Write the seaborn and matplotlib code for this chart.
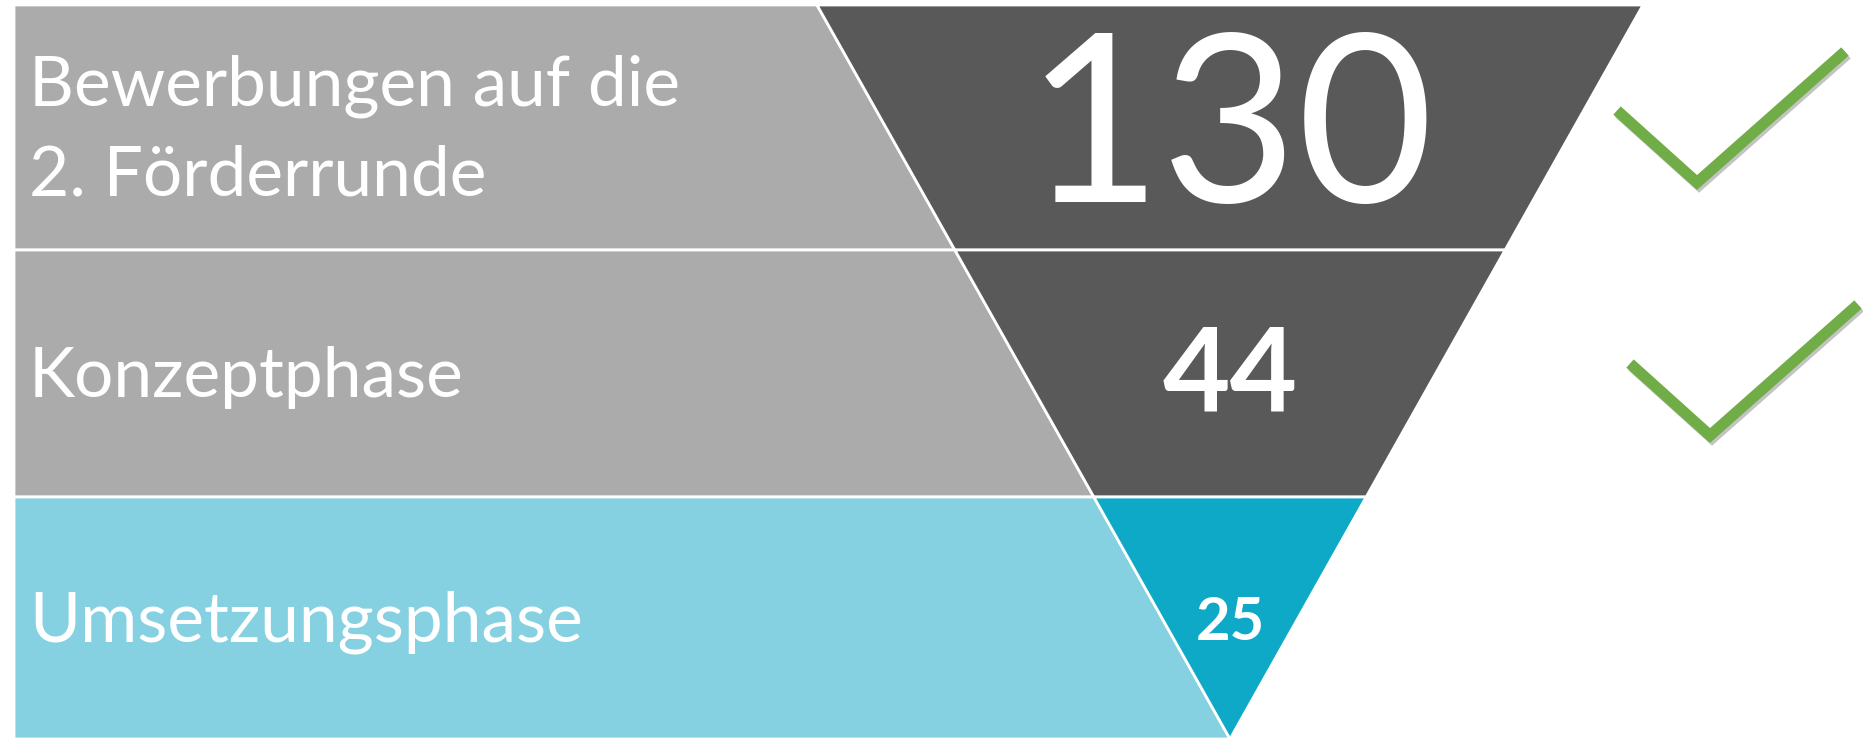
import matplotlib
matplotlib.use("Agg")
import matplotlib.pyplot as plt
import matplotlib.patheffects as pe
from matplotlib.patches import Polygon
import seaborn as sns

# data
stages = ["Bewerbungen auf die\n2. Förderrunde", "Konzeptphase", "Umsetzungsphase"]
counts = [130, 44, 25]
passed = [True, True, False]
band_colors = ["#ABABAB", "#ABABAB", "#85D1E1"]
funnel_colors = ["#595959", "#595959", "#0FA9C8"]

sns.set_theme(style="white")
plt.rcParams["font.family"] = ["Lato", "DejaVu Sans"]

W, H = 1863, 739
fig = plt.figure(figsize=(W / 100, H / 100), dpi=100)
ax = fig.add_axes([0, 0, 1, 1])
ax.set_xlim(0, W)
ax.set_ylim(H, 0)
ax.axis("off")

# funnel layout (pixels)
x_left = 14
row_edges = [5, 250, 497, 739]
apex_x, apex_y = 1230, 739
half_top = 413


def half_width(y):
    return half_top * (apex_y - y) / (apex_y - row_edges[0])


label_pt = 50
line_gap = 90
count_sizes = [169, 84, 43]
count_weights = ["normal", "bold", "bold"]
count_dy = [-10, -4, 0]


def cap_px(pt):
    # Lato cap / figure height ~0.723 em
    return 0.723 * pt * 100 / 72


for i, (stage, n) in enumerate(zip(stages, counts)):
    y0, y1 = row_edges[i], row_edges[i + 1]
    l0, l1 = apex_x - half_width(y0), apex_x - half_width(y1)
    r0, r1 = apex_x + half_width(y0), apex_x + half_width(y1)
    ax.add_patch(Polygon([(x_left, y0), (l0, y0), (l1, y1), (x_left, y1)],
                         facecolor=band_colors[i], edgecolor="white", lw=2))
    ax.add_patch(Polygon([(l0, y0), (r0, y0), (r1, y1), (l1, y1)],
                         facecolor=funnel_colors[i], edgecolor="white", lw=2))
    yc = (y0 + y1) / 2

    lines = stage.split("\n")
    base0 = yc + 23.5 - (len(lines) - 1) * line_gap / 2
    for k, line in enumerate(lines):
        ax.text(29, base0 + k * line_gap, line, color="white", fontsize=label_pt,
                va="baseline", ha="left")

    ax.text(apex_x, yc + cap_px(count_sizes[i]) / 2 + count_dy[i], str(n),
            color="white", fontsize=count_sizes[i], fontweight=count_weights[i],
            va="baseline", ha="center")

    if passed[i]:
        bx = 1697 + 13 * i
        by = yc + 55 + 7 * i
        ax.plot([bx - 80, bx, bx + 148], [by - 72, by, by - 131],
                color="#70AD47", lw=8, solid_joinstyle="miter",
                solid_capstyle="butt",
                path_effects=[pe.SimpleLineShadow(offset=(1.5, -2), shadow_color="#555555", alpha=0.35),
                              pe.Normal()])

fig.savefig("out.png", dpi=100)
